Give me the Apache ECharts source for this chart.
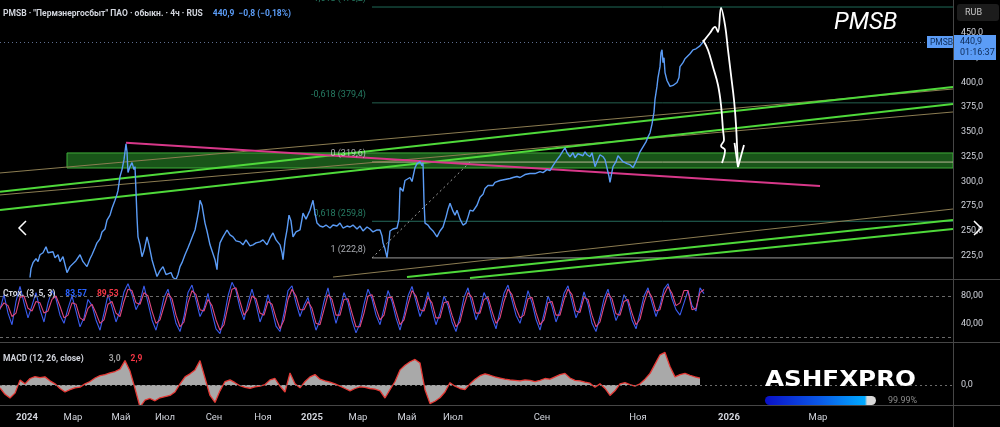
<!DOCTYPE html>
<html><head><meta charset="utf-8">
<script src="https://cdn.jsdelivr.net/npm/echarts@6/dist/echarts.min.js"></script>
<style>html,body{margin:0;padding:0;background:#000;overflow:hidden}#c{width:1000px;height:427px}</style>
</head><body><div id="c"></div>
<script>
// ---------- DATA (time axis = bar index of the chart) ----------
const xTickPos    = [27, 73, 121, 165, 214, 263, 312, 358, 407, 453, 542, 638, 729, 818];
const xTickLabels = ['2024','Мар','Май','Июл','Сен','Ноя','2025','Мар','Май','Июл','Сен','Ноя','2026','Мар'];
const priceTicks  = [225, 250, 275, 300, 325, 350, 375, 400, 425, 450];
const lastPrice = 440.9;

const priceSeries = [[30,203],[31,212],[33,218],[36,222],[38,219],[40,226],[43,228],[46,234],[48,228],[50,226],[53,229],[55,223],[58,226],[60,219],[63,224],[67,208],[70,214],[72,216],[76,220],[80,226],[83,219],[87,214],[90,222],[92,226],[95,233],[97,238],[100,242],[102,249],[105,252],[107,261],[110,266],[112,273],[115,281],[117,287],[118,291],[120,305],[122,312],[124,322],[126,338],[127,330],[128,309],[130,315],[132,319],[134,312],[135,315],[137,264],[138,244],[140,236],[142,224],[144,230],[147,244],[149,236],[152,221],[154,214],[157,204],[160,210],[163,214],[166,206],[168,204],[171,208],[173,203],[176,201],[178,206],[180,214],[182,218],[185,226],[188,233],[190,238],[193,246],[195,251],[197,261],[199,272],[200,281],[202,276],[205,258],[207,250],[210,236],[212,230],[215,221],[217,211],[218,225],[220,238],[223,244],[225,242],[227,251],[230,246],[233,244],[236,240],[240,239],[243,236],[246,241],[250,235],[253,236],[256,238],[260,239],[263,241],[267,236],[270,243],[273,248],[276,241],[280,236],[282,228],[283,221],[285,240],[287,251],[289,266],[291,260],[293,244],[296,249],[300,251],[302,262],[303,268],[306,262],[310,271],[313,281],[315,268],[317,258],[320,255],[323,254],[326,256],[330,253],[333,256],[337,255],[340,258],[343,253],[347,255],[350,254],[353,256],[357,252],[360,255],[363,250],[367,254],[370,252],[373,249],[377,251],[380,251],[382,245],[383,238],[385,232],[387,223],[389,240],[390,250],[393,252],[397,253],[399,262],[400,294],[403,290],[405,301],[407,299],[410,304],[412,300],[415,314],[417,318],[420,320],[422,316],[423,319],[424,280],[425,258],[428,256],[430,253],[433,250],[437,244],[440,250],[443,254],[446,264],[448,272],[450,278],[453,270],[455,266],[457,271],[460,262],[463,256],[466,258],[468,264],[470,271],[473,270],[477,276],[480,284],[483,287],[485,293],[488,296],[490,298],[493,296],[495,299],[500,301],[505,302],[510,303],[513,304],[517,305],[520,304],[525,307],[530,308],[535,308],[540,310],[543,309],[547,312],[550,311],[553,316],[557,322],[560,326],[563,331],[565,334],[567,329],[570,325],[573,329],[575,324],[578,328],[580,329],[583,326],[585,330],[587,327],[590,325],[592,329],[595,315],[597,320],[600,327],[603,325],[605,322],[607,324],[609,305],[610,299],[612,310],[613,315],[616,320],[618,326],[620,324],[623,320],[625,322],[627,318],[630,317],[633,314],[635,318],[638,325],[640,330],[643,335],[646,340],[648,345],[650,349],[652,358],[654,370],[655,383],[657,396],[658,405],[660,416],[661,430],[662,433],[663,420],[664,425],[665,410],[667,402],[670,396],[673,397],[677,400],[679,405],[680,416],[683,420],[685,424],[687,426],[690,429],[693,433],[696,434],[698,436],[700,437],[703,440.9]];

// support zone (bar range, price range)
const zoneBars = [67, 953];
const zonePrices = [313.6, 328.8];

// fibonacci levels
const fibStartBar = 372, fibEndBar = 953;
const fibValues = [476.2, 379.4, 319.6, 259.8, 222.8];
const fibLabels = ['-1,618 (476,2)', '-0,618 (379,4)', '0 (319,6)', '0,618 (259,8)', '1 (222,8)'];
const fibDiagonal = [[372, 222.8], [470, 319.6]];

// trend lines [[bar, price], [bar, price]]
const greenLines = [
  [[0, 289.7], [953, 395.5]],
  [[0, 271.2], [953, 378.3]],
  [[407, 203.6], [953, 261.1]],
  [[470, 202.5], [953, 252.0]]
];
const tanLines = [
  [[0, 308.6], [953, 393.4]],
  [[0, 286.4], [953, 370.2]],
  [[333, 203.5], [953, 272.2]]
];
const magentaLine = [[126, 339.0], [820, 295.5]];

// hand-drawn forecast arrows
const arrowA = [[703,442.9],[708,432.8],[713,415.7],[718,397.5],[721,377.3],[723,352.0],[724,341.9],[721,335.9],[725,331.8],[722,318.7]];
const arrowB = [[703,441],[710,450],[715,456.1],[718,451.0],[721,475.3],[725,458.1],[728,432.8],[731,407.6],[734,382.3],[736,357.1],[737,336.9],[738,314.6]];
const arrowHead = [[734.5,338.9],[738,314.6],[744,336.9]];

// stochastic, one value every STOCH_STEP bars starting at bar 0
const STOCH_STEP = 4;
const stochK = [60,82,55,38,72,94,70,48,66,85, 60,42,70,88,76,52,40,62,80,58, 35,48,75,66,45,30,55,82,64,42, 58,86,98,82,60,72,95,70,45,30, 52,78,90,66,40,28,50,85,96,74, 50,62,84,55,32,25,48,80,100,88, 62,45,70,90,68,42,58,82,60,36, 28,55,88,95,70,50,66,78,52,30, 45,72,92,64,40,60,85,70,44,26, 40,68,90,76,52,38,62,88,72,48, 30,52,80,94,72,50,64,86,60,38, 55,80,66,42,28,50,78,92,68,45, 60,85,72,48,32,58,84,96,74,52, 40,62,88,70,46,30,54,80,65,42, 58,84,95,72,48,62,86,68,40,28, 50,76,90,66,44,58,82,70,45,32, 55,80,92,70,50,66,90,98,76,60, 52,70,88,66,58,92,83.57];
const stochD = [62,70,66,50,55,78,80,62,58,72, 70,55,58,75,80,65,48,52,70,68, 48,44,62,68,55,40,45,68,72,55, 50,72,90,88,70,68,85,80,58,40, 45,65,84,76,52,35,42,70,88,82, 60,58,75,66,45,30,38,65,90,92, 72,52,60,80,76,55,52,72,68,48, 32,45,75,90,80,60,60,72,62,40, 38,60,82,75,52,52,75,76,55,35, 35,55,80,82,62,45,52,78,78,58, 38,45,68,88,80,60,58,78,70,48, 48,70,72,52,35,42,66,85,78,55, 55,75,78,58,40,48,72,90,82,62, 48,52,76,78,56,38,45,70,72,52, 52,74,90,82,58,56,78,75,52,35, 42,65,84,76,54,52,72,75,55,38, 46,70,88,78,58,60,82,94,84,66, 70,88,88,60,62,85,89.53];

// MACD, one value every MACD_STEP bars starting at bar 0
const MACD_STEP = 5;
const macdVals = [-1.3,-4.0,-5.6,-3.5,2.1,0.5,2.8,3.6,3.2,3.5, 1.8,0.5,-1.5,-3.0,-2.0,-1.2,-0.9,0.5,1.5,3.0, 4.0,4.5,5.2,5.8,6.8,10.5,6.0,-1.5,-9.5,-6.5, -5.8,-6.8,-5.5,-5.0,-4.5,-3.0,0.5,3.5,4.8,6.5, 10.5,3.0,-4.5,-7.5,-2.5,1.5,2.2,1.0,-0.3,-1.0, -1.4,-0.8,-0.5,0.2,2.2,2.8,-0.5,-3.0,5.2,0.5, -1.2,1.5,3.5,4.5,2.5,1.8,1.2,0.5,-0.5,-1.5, -2.5,-1.5,-0.8,-1.0,-1.5,-1.8,-2.5,-5.6,-2.0,1.5, 6.5,8.5,10.0,11.0,9.5,-2.0,-8.0,-7.0,-5.5,-3.0, 1.0,-0.5,-1.5,-2.0,0.5,2.5,4.0,4.8,4.2,3.5, 3.0,2.5,2.2,2.0,1.8,2.2,2.0,1.5,2.0,2.8, 2.5,3.5,4.5,5.0,3.0,2.0,1.8,1.2,0.8,-1.0, 0.5,-1.5,-4.5,-2.5,0.5,1.0,0.2,-0.5,0.5,2.5, 5.0,9.0,13.0,14.0,8.0,3.5,4.5,5.0,4.2,3.5, 3.0];

// ---------- CHART ----------
const chart = echarts.init(document.getElementById('c'), null, {renderer: 'canvas'});
const FONT = 'Roboto, "DejaVu Sans", sans-serif';
const TXT = '#d1d4dc';
const BAR_MAX = 953;
const comma = (v, d) => v.toFixed(d).replace('.', ',');

const grids = [
  {left: 0, right: 47, top: 0, height: 279},
  {left: 0, right: 47, top: 279, height: 63},
  {left: 0, right: 47, top: 342, height: 63}
].map(g => Object.assign({outerBoundsMode: 'none', containLabel: false, show: false}, g));

const xAxes = [0, 1, 2].map(i => ({
  type: 'value', gridIndex: i, min: 0, max: BAR_MAX,
  axisLine: {show: false}, axisTick: {show: false}, splitLine: {show: false},
  axisLabel: i < 2 ? {show: false} : {
    show: true, customValues: xTickPos, margin: 8, color: TXT, fontSize: 9.5, fontFamily: FONT,
    formatter: v => {
      const s = xTickLabels[xTickPos.indexOf(v)] || '';
      return /^\d{4}$/.test(s) ? '{y|' + s + '}' : s;
    },
    rich: {y: {fontWeight: 'bold', fontSize: 9.5, color: TXT, fontFamily: FONT}}
  }
}));

const yBase = {type: 'value', position: 'right', axisLine: {show: false}, axisTick: {show: false}, splitLine: {show: false}};
const yAxes = [
  Object.assign({}, yBase, {gridIndex: 0, min: 201.5, max: 483.3,
    axisLabel: {customValues: priceTicks, margin: 8, color: TXT, fontSize: 9, fontFamily: FONT, formatter: v => comma(v, 1)}}),
  Object.assign({}, yBase, {gridIndex: 1, min: 12.7, max: 104.9,
    axisLabel: {customValues: [40, 80], margin: 8, color: TXT, fontSize: 9, fontFamily: FONT, formatter: v => comma(v, 2)}}),
  Object.assign({}, yBase, {gridIndex: 2, min: -8.6, max: 18.5,
    axisLabel: {customValues: [0], margin: 8, color: TXT, fontSize: 9, fontFamily: FONT, formatter: v => comma(v, 1)}})
];

const seg = (pts, color, width, z, extra) => Object.assign({
  type: 'line', xAxisIndex: 0, yAxisIndex: 0, data: pts, showSymbol: false, symbol: 'none',
  silent: true, animation: false, z: z, lineStyle: {color: color, width: width}
}, extra || {});

const series = [];
// zone
series.push({
  type: 'line', xAxisIndex: 0, yAxisIndex: 0, data: [[zoneBars[0], zonePrices[0]], [zoneBars[1], zonePrices[0]]],
  showSymbol: false, lineStyle: {opacity: 0}, silent: true, animation: false, z: 1,
  markArea: {silent: true, itemStyle: {color: 'rgba(50,170,50,0.5)', borderColor: '#3fae3a', borderWidth: 1},
    data: [[{coord: [zoneBars[0], zonePrices[0]]}, {coord: [zoneBars[1], zonePrices[1]]}]]}
});
// fib lines
const fibLineColors = ['#1f6a58', '#24604f', '#b9b596', '#256b5c', '#9a9a9a'];
const fibLabelColors = ['#2f9a7c', '#2f9a7c', '#d1d4dc', '#2f9a7c', '#d1d4dc'];
fibValues.forEach((v, i) => series.push(seg([[fibStartBar, v], [fibEndBar, v]], fibLineColors[i], 1, 2)));
series.push({
  type: 'scatter', xAxisIndex: 0, yAxisIndex: 0, symbolSize: 0, silent: true, animation: false, z: 4,
  data: fibValues.map((v, i) => ({value: [fibStartBar, v], label: {color: fibLabelColors[i]}})),
  label: {show: true, position: 'left', distance: 6, offset: [0, -8], fontSize: 9, fontFamily: FONT,
    formatter: p => fibLabels[p.dataIndex]}
});
series.push(seg(fibDiagonal, '#9a9a9a', 1, 3, {lineStyle: {color: '#a0a0a0', width: 1, type: [2, 3]}}));
// trend lines
tanLines.forEach(l => series.push(seg(l, '#8c7d52', 1, 3)));
greenLines.forEach(l => series.push(seg(l, '#4fd93a', 2, 3)));
series.push(seg(magentaLine, '#d8388a', 2, 3));
// price
series.push({
  type: 'line', xAxisIndex: 0, yAxisIndex: 0, data: priceSeries, showSymbol: false, symbol: 'none',
  silent: true, animation: false, z: 6, clip: true,
  lineStyle: {color: '#5b9cf6', width: 1.4},
  markLine: {silent: true, symbol: ['none', 'none'], animation: false, label: {show: false},
    lineStyle: {color: '#5f6f8f', width: 1, type: [1, 3]}, data: [{yAxis: lastPrice}]}
});
// arrows
[arrowA, arrowB].forEach(a => series.push(seg(a, '#ffffff', 1.8, 7, {smooth: 0.4})));
series.push(seg(arrowHead, '#ffffff', 1.8, 7));
// stochastic
const pts = (arr, step) => arr.map((v, i) => [i * step, v]);
series.push({
  type: 'line', xAxisIndex: 1, yAxisIndex: 1, data: pts(stochK, STOCH_STEP), showSymbol: false, silent: true, animation: false, z: 4,
  lineStyle: {color: '#3a5cf0', width: 1.1},
  markLine: {silent: true, symbol: ['none', 'none'], animation: false, label: {show: false},
    lineStyle: {color: '#6a6a6a', width: 1, type: [3, 3]}, data: [{yAxis: 80}, {yAxis: 20}]}
});
series.push({
  type: 'line', xAxisIndex: 1, yAxisIndex: 1, data: pts(stochD, STOCH_STEP), showSymbol: false, silent: true, animation: false, z: 5,
  lineStyle: {color: '#e0487e', width: 1.1}
});
// MACD
series.push({
  type: 'line', xAxisIndex: 2, yAxisIndex: 2, data: pts(macdVals, MACD_STEP), showSymbol: false, silent: true, animation: false, z: 4,
  lineStyle: {color: '#e53935', width: 1.3},
  areaStyle: {color: '#a9a9a9', opacity: 1, origin: 0},
  markLine: {silent: true, symbol: ['none', 'none'], animation: false, label: {show: false},
    lineStyle: {color: '#6a6a6a', width: 1, type: [2, 3]}, data: [{yAxis: 0}]}
});

const FS = 8.5;
const titleBase = {padding: 0, textStyle: {fontSize: FS, fontFamily: FONT, fontWeight: 'normal'}};
const rs = c => ({color: c, fontSize: FS, fontFamily: FONT});
chart.setOption({
  backgroundColor: '#000',
  animation: false,
  grid: grids, xAxis: xAxes, yAxis: yAxes, series: series,
  title: [
    Object.assign({}, titleBase, {left: 3, top: 5,
      text: '{a|PMSB · "Пермэнергосбыт" ПАО · обыкн. · 4ч · RUS}  {b|' + comma(lastPrice, 1) + '  −0,8 (−0,18%)}',
      textStyle: {rich: {a: rs(TXT), b: rs('#5b9cf6')}}}),
    Object.assign({}, titleBase, {left: 3, top: 285,
      text: '{a|Стох. (3, 5, 3)}  {k|' + comma(stochK[stochK.length - 1], 2) + '}  {d|' + comma(stochD[stochD.length - 1], 2) + '}',
      textStyle: {rich: {a: rs(TXT), k: rs('#2962ff'), d: rs('#f23645')}}}),
    Object.assign({}, titleBase, {left: 3, top: 350,
      text: '{a|MACD (12, 26, close)}     {m|3,0}  {s|2,9}',
      textStyle: {rich: {a: rs(TXT), m: rs('#9a9a9a'), s: rs('#f23645')}}})
  ]
});

const yp = Math.round(chart.convertToPixel({yAxisIndex: 0}, lastPrice));
const sep = '#464646';
chart.setOption({graphic: [
  {type: 'line', shape: {x1: 0, y1: 279.5, x2: 1000, y2: 279.5}, style: {stroke: sep, lineWidth: 1}, z: 50},
  {type: 'line', shape: {x1: 0, y1: 342.5, x2: 1000, y2: 342.5}, style: {stroke: sep, lineWidth: 1}, z: 50},
  {type: 'line', shape: {x1: 0, y1: 405.5, x2: 1000, y2: 405.5}, style: {stroke: sep, lineWidth: 1}, z: 50},
  {type: 'line', shape: {x1: 953.5, y1: 0, x2: 953.5, y2: 427}, style: {stroke: sep, lineWidth: 1}, z: 50},
  {type: 'rect', shape: {x: 957, y: 4, width: 42, height: 17, r: 3}, style: {fill: '#1c1c1c'}, z: 50},
  {type: 'text', x: 965, y: 8, style: {text: 'RUB', fill: '#c8c8c8', font: '9px ' + FONT}, z: 51},
  {type: 'text', x: 834, y: 11, style: {text: 'PMSB', fill: '#ffffff', font: 'italic 24px ' + FONT}, z: 51},
  {type: 'rect', shape: {x: 927, y: yp - 6, width: 26, height: 12}, style: {fill: '#5b9cf6'}, z: 52},
  {type: 'text', x: 930, y: yp - 4, style: {text: 'PMSB', fill: '#0d2b57', font: '8.5px ' + FONT}, z: 53},
  {type: 'rect', shape: {x: 954, y: yp - 7, width: 42, height: 25}, style: {fill: '#5b9cf6'}, z: 52},
  {type: 'text', x: 960, y: yp - 5, style: {text: comma(lastPrice, 1), fill: '#0d2b57', font: '9px ' + FONT}, z: 53},
  {type: 'text', x: 960, y: yp + 6, style: {text: '01:16:37', fill: '#0d2b57', font: '9px ' + FONT}, z: 53},
  {type: 'polyline', shape: {points: [[26, 221], [19, 228], [26, 235]]}, style: {stroke: '#ffffff', lineWidth: 1.5, fill: null}, z: 51},
  {type: 'polyline', shape: {points: [[974, 221], [981, 228], [974, 235]]}, style: {stroke: '#ffffff', lineWidth: 1.5, fill: null}, z: 51},
  {type: 'text', x: 765, y: 370, scaleX: 1.2, style: {text: 'ASHFXPRO', fill: '#ffffff', font: 'bold 20.5px "DejaVu Sans"'}, z: 51},
  {type: 'rect', shape: {x: 765, y: 396, width: 111, height: 9, r: 4.5},
    style: {fill: new echarts.graphic.LinearGradient(0, 0, 1, 0, [
      {offset: 0, color: '#0a10c8'}, {offset: 0.5, color: '#0a5ae8'}, {offset: 0.9, color: '#00aaff'},
      {offset: 0.92, color: '#d8d8d8'}, {offset: 1, color: '#d8d8d8'}])}, z: 51},
  {type: 'text', x: 888, y: 396, style: {text: '99.99%', fill: '#8a8a8a', font: '9px ' + FONT}, z: 51}
]});
</script></body></html>
